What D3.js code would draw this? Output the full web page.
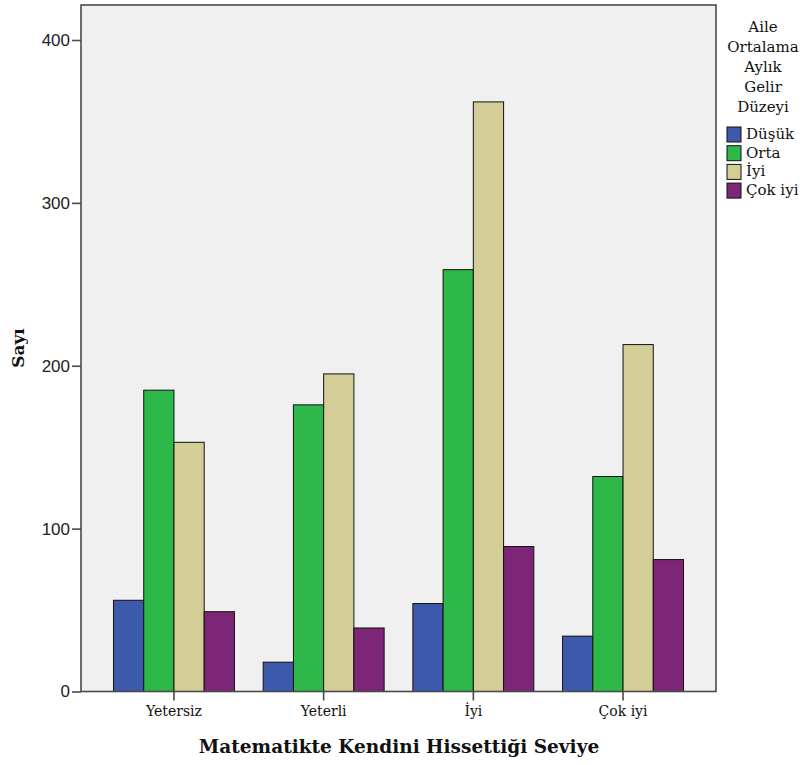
<!DOCTYPE html>
<html><head><meta charset="utf-8">
<script src="https://cdn.jsdelivr.net/npm/d3@7"></script>
<style>body{margin:0;background:#fff}</style>
</head><body>
<script>
const categories = ["Yetersiz", "Yeterli", "İyi", "Çok iyi"];
const seriesNames = ["Düşük", "Orta", "İyi", "Çok iyi"];
const dusuk = [56, 18, 54, 34];
const orta = [185, 176, 259, 132];
const iyi = [153, 195, 362, 213];
const cokIyi = [49, 39, 89, 81];
const yTicks = [0, 100, 200, 300, 400];
const colors = ["#3d59ab", "#2eb84a", "#d3ce97", "#7d2678"];
const legendTitle = ["Aile", "Ortalama", "Aylık", "Gelir", "Düzeyi"];
const xTitle = "Matematikte Kendini Hissettiği Seviye";
const yTitle = "Sayı";

const seriesValues = [dusuk, orta, iyi, cokIyi];
const W = 803, H = 765;
const L = 81, R = 716, T = 5, B = 691.5;

const svg = d3.select("body").append("svg").attr("width", W).attr("height", H);

const y = d3.scaleLinear().domain([0, 400]).range([B, 40]);
const x0 = d3.scaleBand().domain(categories).range([L, R]).paddingInner(0.192).paddingOuter(0.217);
const x1 = d3.scaleBand().domain(seriesNames).range([0, x0.bandwidth()]);

svg.append("rect").attr("x", L).attr("y", T).attr("width", R - L).attr("height", B - T)
  .attr("fill", "#f0f0f0");

const data = [];
categories.forEach((c, i) => seriesNames.forEach((s, j) => data.push({c, s, j, v: seriesValues[j][i]})));

svg.append("g").selectAll("rect").data(data).join("rect")
  .attr("x", d => x0(d.c) + x1(d.s))
  .attr("y", d => y(d.v))
  .attr("width", x1.bandwidth())
  .attr("height", d => y(0) - y(d.v))
  .attr("fill", d => colors[d.j])
  .attr("stroke", "#111").attr("stroke-width", 1);

// frame
svg.append("rect").attr("x", L).attr("y", T).attr("width", R - L).attr("height", B - T)
  .attr("fill", "none").attr("stroke", "#4a4a4a").attr("stroke-width", 1.6);

// y axis
const yAxis = svg.append("g").attr("transform", `translate(${L},0)`)
  .call(d3.axisLeft(y).tickValues(yTicks).tickSize(9).tickPadding(2).tickFormat(d3.format("d")));
yAxis.select(".domain").remove();
yAxis.selectAll("line").attr("stroke", "#4a4a4a").attr("stroke-width", 1.6);
yAxis.selectAll("text").attr("font-family", "Liberation Sans, Arial, sans-serif").attr("font-size", 17).attr("fill", "#222");

// x axis
const xAxis = svg.append("g").attr("transform", `translate(0,${B})`)
  .call(d3.axisBottom(x0).tickSize(9).tickPadding(6));
xAxis.select(".domain").remove();
xAxis.selectAll("line").attr("stroke", "#4a4a4a").attr("stroke-width", 1.6);
xAxis.selectAll("text").attr("font-family", "DejaVu Serif, serif").attr("font-size", 14).attr("fill", "#111");

// titles
svg.append("text").attr("x", 399).attr("y", 753).attr("text-anchor", "middle")
  .attr("font-family", "DejaVu Serif, serif").attr("font-weight", "bold").attr("font-size", 18.5)
  .attr("fill", "#111").text(xTitle);
svg.append("text").attr("transform", "translate(24,348) rotate(-90)").attr("text-anchor", "middle")
  .attr("font-family", "DejaVu Serif, serif").attr("font-weight", "bold").attr("font-size", 17)
  .attr("fill", "#111").text(yTitle);

// legend
const lg = svg.append("g");
legendTitle.forEach((t, i) => lg.append("text").attr("x", 763).attr("y", 32 + i * 20)
  .attr("text-anchor", "middle").attr("font-family", "DejaVu Serif, serif").attr("font-size", 15)
  .attr("fill", "#111").text(t));
seriesNames.forEach((s, i) => {
  const yy = 127 + i * 18.7;
  lg.append("rect").attr("x", 727).attr("y", yy).attr("width", 14).attr("height", 15)
    .attr("fill", colors[i]).attr("stroke", "#111").attr("stroke-width", 1);
  lg.append("text").attr("x", 746).attr("y", yy + 12).attr("font-family", "DejaVu Serif, serif")
    .attr("font-size", 15).attr("fill", "#111").text(s);
});
</script>
</body></html>
